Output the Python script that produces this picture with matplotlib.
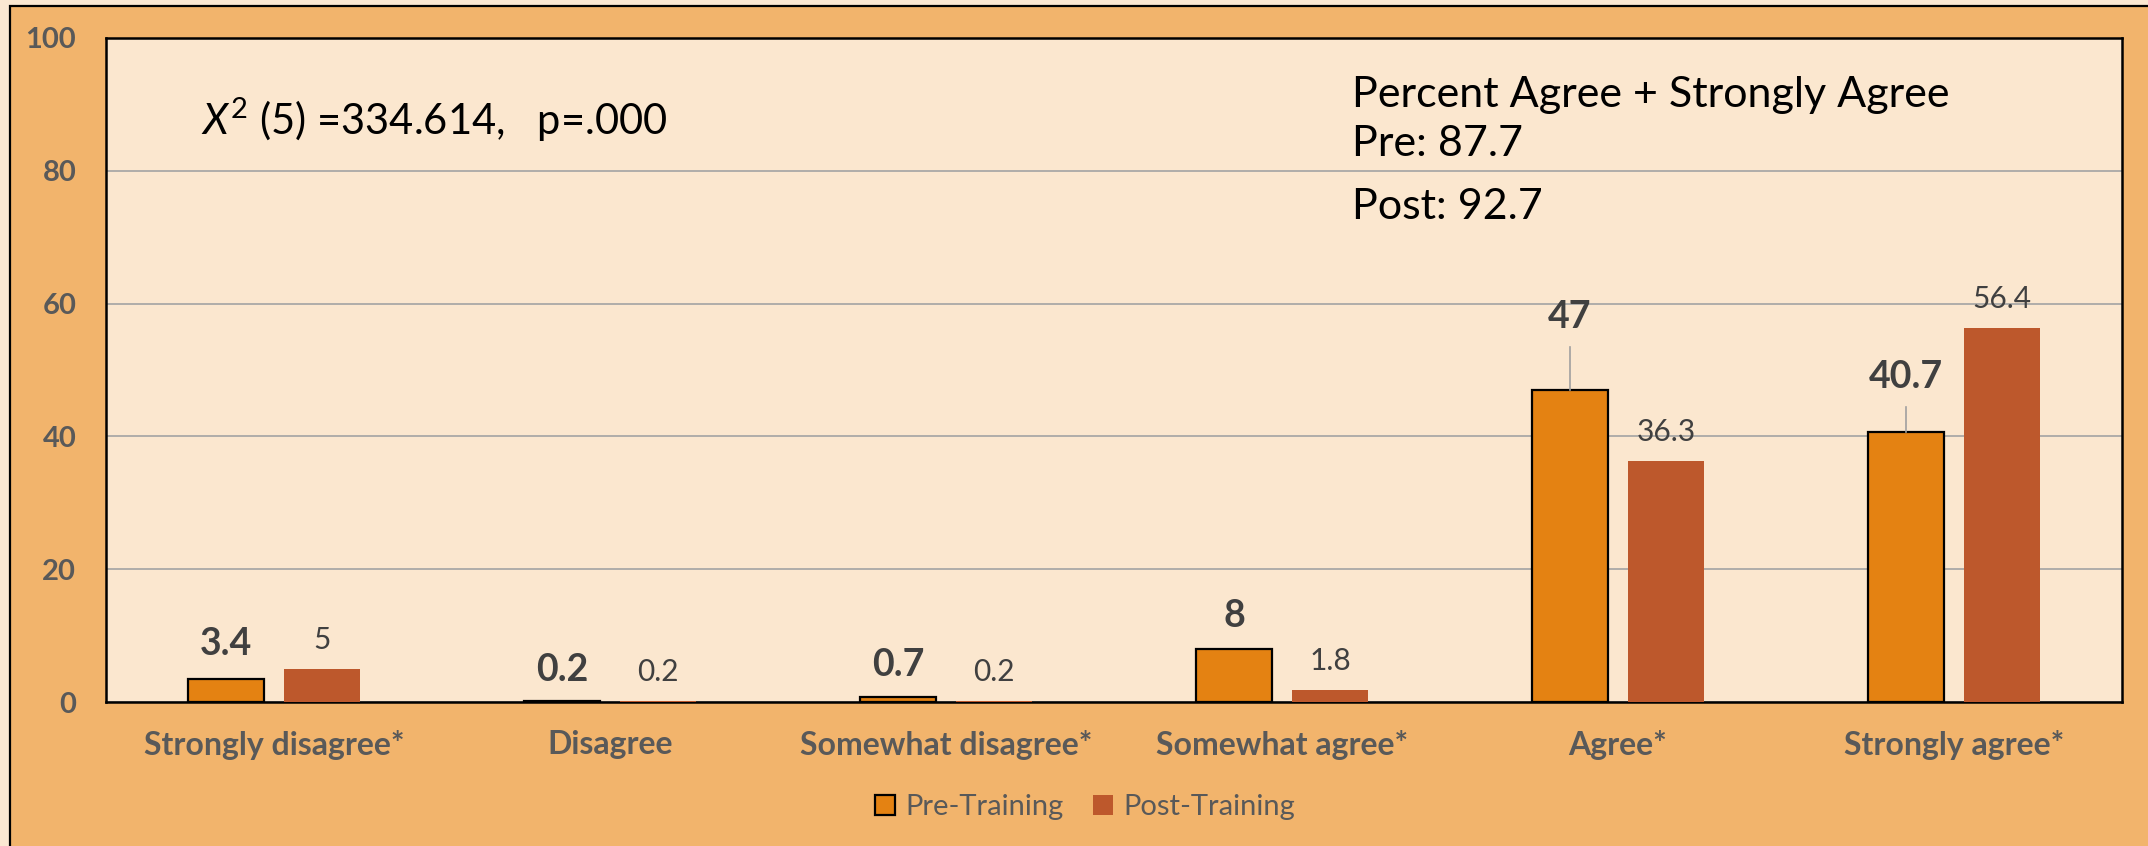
import numpy as np
import matplotlib
matplotlib.use('Agg')
import matplotlib.pyplot as plt
from matplotlib.patches import Rectangle

# Datos del grafico
categorias = ['Strongly disagree*', 'Disagree', 'Somewhat disagree*',
              'Somewhat agree*', 'Agree*', 'Strongly agree*']
pre_training = [3.4, 0.2, 0.7, 8, 47, 40.7]
post_training = [5, 0.2, 0.2, 1.8, 36.3, 56.4]
etiquetas_pre = ['3.4', '0.2', '0.7', '8', '47', '40.7']
etiquetas_post = ['5', '0.2', '0.2', '1.8', '36.3', '56.4']
series = ['Pre-Training', 'Post-Training']
yticks = [0, 20, 40, 60, 80, 100]
texto_chi = r'$\mathit{X}^{2}$ (5) =334.614,   p=.000'
texto_acuerdo = ['Percent Agree + Strongly Agree', 'Pre: 87.7', 'Post: 92.7']

# Estilos
plt.rcParams['font.family'] = ['Lato', 'DejaVu Sans']
plt.rcParams['mathtext.fontset'] = 'custom'
plt.rcParams['mathtext.rm'] = 'Lato'
plt.rcParams['mathtext.it'] = 'Lato:italic'

c_fondo = '#FBE8D2'
c_panel = '#F2B46C'
c_area = '#FBE7CF'
c_pre = '#E48212'
c_post = '#BD582C'
c_gris = '#595959'
c_etq = '#404040'

W, H = 2148, 846
fig = plt.figure(figsize=(W / 100, H / 100), dpi=100, facecolor=c_fondo)

# Panel naranja con borde
panel = Rectangle((10 / W, -0.1), 1.2, 1.1 - 6 / H, transform=fig.transFigure,
                  facecolor=c_panel, edgecolor='black', linewidth=1.6, zorder=-5)
fig.patches.append(panel)

ax = fig.add_axes([106 / W, 1 - 702 / H, (2122 - 106) / W, (702 - 38) / H])
ax.set_facecolor(c_area)
ax.set_zorder(2)

x = np.arange(len(categorias))
ancho = 0.225
desp = 0.143

ax.bar(x - desp, pre_training, ancho, color=c_pre, edgecolor='black',
       linewidth=1.6, zorder=3, label=series[0])
ax.bar(x + desp, post_training, ancho, color=c_post, edgecolor='none',
       zorder=3, label=series[1])

# Etiquetas de datos
lift_pre = [5.3, 4.6, 4.8, 4.9, 11.0, 8.3]
lift_post = 4.3
for i in range(len(categorias)):
    yp = pre_training[i] + lift_pre[i]
    ax.text(x[i] - desp, yp, etiquetas_pre[i], ha='center', va='center',
            fontsize=27, fontweight='bold', color=c_etq, zorder=5)
    if lift_pre[i] > 7:
        ax.plot([x[i] - desp, x[i] - desp], [pre_training[i], yp - 4.6],
                color='#A0A0A0', linewidth=1.2, zorder=4)
    ax.text(x[i] + desp, post_training[i] + lift_post, etiquetas_post[i],
            ha='center', va='center', fontsize=21.5, color=c_etq, zorder=5)

ax.set_xlim(-0.5, len(categorias) - 0.5)
ax.set_ylim(0, 100)
ax.set_yticks(yticks)
ax.set_xticks(x)
ax.set_xticklabels(categorias)
ax.tick_params(axis='both', length=0)
ax.tick_params(axis='y', pad=21.5, labelsize=21, labelcolor=c_gris)
ax.tick_params(axis='x', pad=20, labelsize=23, labelcolor=c_gris)
for lbl in ax.get_xticklabels() + ax.get_yticklabels():
    lbl.set_fontweight('bold')

ax.grid(axis='y', color='#A3A3A3', linewidth=1.2, zorder=1)
ax.set_axisbelow(True)
for s in ax.spines.values():
    s.set_color('black')
    s.set_linewidth(1.8)

# Anotaciones
ax.text(0.047, 87.6, texto_chi, transform=ax.get_yaxis_transform(),
        fontsize=30, color='black', va='center', ha='left')
for k, t in enumerate(texto_acuerdo):
    ax.text((1352 - 106) / (2122 - 106), [91.4, 84.0, 74.5][k], t,
            transform=ax.get_yaxis_transform(), fontsize=31, color='black',
            va='center', ha='left')

leg = fig.legend(loc='center', bbox_to_anchor=(1085 / W, 1 - 807 / H), ncol=2,
                 frameon=False, fontsize=21, handlelength=0.7, handleheight=0.7,
                 handletextpad=0.35, columnspacing=1.0)
for t in leg.get_texts():
    t.set_color(c_gris)

fig.savefig('out.png', dpi=100, facecolor=fig.get_facecolor())
